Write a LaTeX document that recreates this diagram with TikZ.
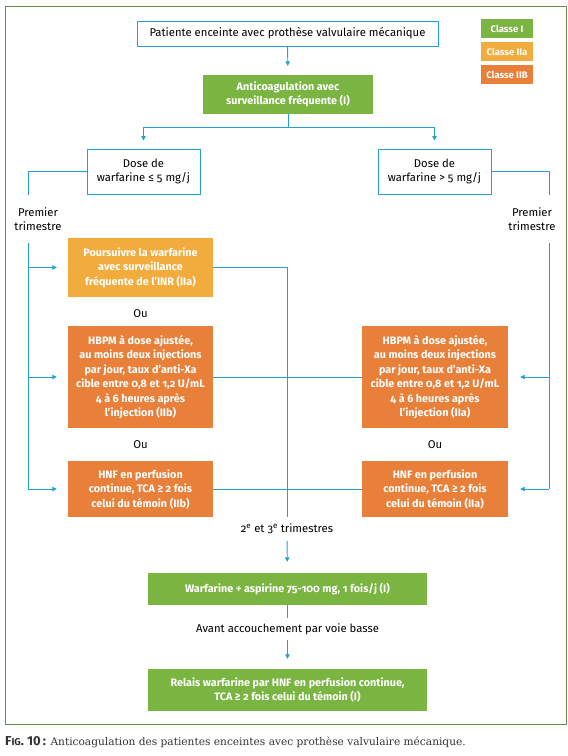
\documentclass[tikz,border=0pt]{standalone}
\usepackage{fontspec}
\setmainfont{Fira Sans}[Numbers=OldStyle]
\newfontfamily\figfont{Fira Sans}
\newfontfamily\capfont{DejaVu Serif}
\usetikzlibrary{arrows.meta}
\definecolor{bleu}{RGB}{35,160,210}
\definecolor{vertI}{RGB}{122,181,66}
\definecolor{orIIa}{RGB}{242,172,62}
\definecolor{orIIb}{RGB}{232,128,58}
\definecolor{vertcadre}{RGB}{105,140,75}

\begin{document}
\begin{tikzpicture}[x=1pt,y=-1pt,
  trait/.style={bleu, line width=0.9pt},
  fleche/.style={trait, -{Triangle[length=4.5pt,width=4.5pt]}},
  cadre/.style={draw=bleu, line width=1pt, fill=white, align=center, inner sep=0pt,
    font=\fontsize{11.3}{14.5}\selectfont},
  boite/.style={text=white, align=center, inner sep=0pt,
    font=\bfseries\fontsize{10.8}{14.5}\selectfont},
  vert/.style={boite, fill=vertI},
  orA/.style={boite, fill=orIIa},
  orB/.style={boite, fill=orIIb},
  etiq/.style={align=center, inner sep=0pt, font=\fontsize{11.3}{14.5}\selectfont},
  classe/.style={text=white, inner sep=0pt, minimum width=52pt, minimum height=19pt,
    font=\bfseries\fontsize{9.5}{10}\selectfont}]
\useasboundingbox (0,0) rectangle (568,756);
\draw[vertcadre, line width=1pt] (5,6) rectangle (566,724);

% legende des classes
\node[classe, fill=vertI] (clI) at (507,28.5) {Classe I};
\node[classe, fill=orIIa] (clIIa) at (507,51.5) {Classe IIa};
\node[classe, fill=orIIb] (clIIb) at (507,74.5) {Classe IIB};

% haut
\node[cadre, minimum width=301pt, minimum height=25pt] (patiente) at (287.5,33.5)
  {Patiente enceinte avec prothèse valvulaire mécanique};
\node[vert, minimum width=170pt, minimum height=39pt] (anticoag) at (288,94.5)
  {Anticoagulation avec\\surveillance fréquente (I)};
\node[cadre, minimum width=113pt, minimum height=45pt] (doseA) at (143.5,171.5)
  {Dose de\\warfarine ≤ 5 mg/j};
\node[cadre, minimum width=113pt, minimum height=45pt] (doseB) at (434.5,171.5)
  {Dose de\\warfarine > 5 mg/j};
\node[etiq, minimum height=48pt] (premA) at (38,219) {Premier\\trimestre};
\node[etiq, minimum height=48pt] (premB) at (532,219) {Premier\\trimestre};

% premier trimestre
\node[orA, minimum width=145pt, minimum height=59pt] (suivre) at (140.5,267.5)
  {Poursuivre la warfarine\\avec surveillance\\fréquente de l’INR (IIa)};
\node[etiq] (ouA) at (140.5,314) {Ou};
\node[orB, minimum width=145pt, minimum height=102pt] (hbpmA) at (140.5,377)
  {HBPM à dose ajustée,\\au moins deux injections\\par jour, taux d’anti-Xa\\cible entre 0,8 et 1,2 U/mL\\4 à 6 heures après\\l’injection (IIb)};
\node[etiq] (ouB) at (140.5,445) {Ou};
\node[orB, minimum width=145pt, minimum height=56pt] (hnfA) at (140.5,489)
  {HNF en perfusion\\continue, TCA ≥ 2 fois\\celui du témoin (IIb)};
\node[orB, minimum width=146pt, minimum height=102pt] (hbpmB) at (435,377)
  {HBPM à dose ajustée,\\au moins deux injections\\par jour, taux d’anti-Xa\\cible entre 0,8 et 1,2 U/mL\\4 à 6 heures après\\l’injection (IIa)};
\node[etiq] (ouC) at (435,445) {Ou};
\node[orB, minimum width=146pt, minimum height=56pt] (hnfB) at (435,489)
  {HNF en perfusion\\continue, TCA ≥ 2 fois\\celui du témoin (IIa)};

% bas
\node[etiq, minimum height=24pt] (trim) at (287,529)
  {2\textsuperscript{e} et 3\textsuperscript{e} trimestres};
\node[vert, minimum width=279pt, minimum height=32pt] (warf) at (287.5,589)
  {Warfarine + aspirine 75-100 mg, 1 fois/j (I)};
\node[etiq, minimum height=22pt] (avant) at (287.5,629) {Avant accouchement par voie basse};
\node[vert, minimum width=279pt, minimum height=42pt] (relais) at (287.5,690)
  {Relais warfarine par HNF en perfusion continue,\\TCA ≥ 2 fois celui du témoin (I)};

\coordinate (gauche) at (28,0);
\coordinate (droite) at (549,0);
\coordinate (centre) at (287,0);

% connecteurs
\draw[fleche, shorten >=9pt] (patiente) -- (anticoag);
\draw[fleche, shorten >=8pt] (anticoag.south) -- ++(0,13) -| (doseA.north);
\draw[fleche, shorten >=8pt] (anticoag.south) -- ++(0,13) -| (doseB.north);
\draw[trait] (doseA.west) -| (gauche |- premA.north);
\draw[trait] (gauche |- premA.south) -- (gauche |- hnfA);
\draw[trait] (doseB.east) -| (droite |- premB.north);
\draw[trait] (droite |- premB.south) -- (droite |- hnfB);
\draw[fleche, shorten >=11pt] (gauche |- suivre) -- (suivre);
\draw[fleche, shorten >=11pt] (gauche |- hbpmA) -- (hbpmA);
\draw[fleche, shorten >=11pt] (gauche |- hnfA) -- (hnfA);
\draw[fleche, shorten >=12pt] (droite |- hbpmB) -- (hbpmB);
\draw[fleche, shorten >=12pt] (droite |- hnfB) -- (hnfB);
\draw[trait] (suivre.east) -| (centre |- trim.north);
\draw[trait] (hbpmA) -- (hbpmB);
\draw[trait] (hnfA) -- (hnfB);
\draw[fleche, shorten >=11pt] (trim) -- (warf);
\draw[trait] (warf) -- (avant);
\draw[fleche, shorten >=10pt] (avant) -- (relais);

\node[anchor=base west, inner sep=0pt, text=black!80, font=\capfont\fontsize{10.6}{12}\selectfont]
  (legende) at (5,745) {{\figfont\bfseries\fontsize{13}{12}\selectfont F{\fontsize{10}{12}\selectfont IG}. 10\,:} Anticoagulation des patientes enceintes avec prothèse valvulaire mécanique.};
\end{tikzpicture}
\end{document}
